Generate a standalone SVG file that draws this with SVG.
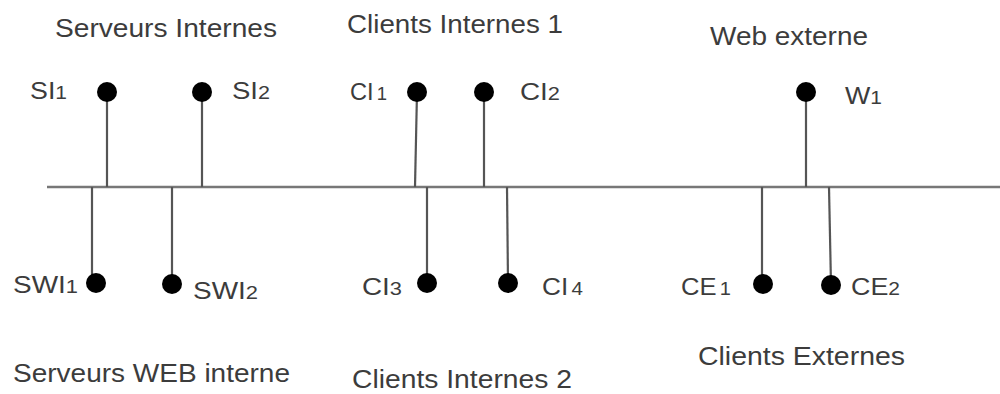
<svg xmlns="http://www.w3.org/2000/svg" width="1000" height="394" viewBox="0 0 1000 394">
<style>
.grp{font-family:"Liberation Sans",Arial,sans-serif;font-size:26px;fill:#3c3c3c}
.lbl{font-family:"Liberation Sans",Arial,sans-serif;font-size:23px;fill:#3c3c3c}
.sub{font-size:18px}
.dot{fill:#000}
.stem{stroke:#555;stroke-width:2.2;fill:none}
.bus{stroke:#777;stroke-width:2.5;fill:none}
</style>
<rect width="1000" height="394" fill="#fff"/>
<g id="connectors">
<line class="bus" x1="47" y1="187" x2="1000" y2="187"/>
<line class="stem" x1="107" y1="92" x2="107" y2="187"/>
<line class="stem" x1="202" y1="92" x2="202" y2="187"/>
<line class="stem" x1="417" y1="92" x2="415" y2="187"/>
<line class="stem" x1="484" y1="92" x2="484" y2="187"/>
<line class="stem" x1="806" y1="92" x2="806" y2="187"/>
<line class="stem" x1="92" y1="187" x2="92" y2="281"/>
<line class="stem" x1="172" y1="187" x2="172" y2="284"/>
<line class="stem" x1="427" y1="187" x2="427" y2="283"/>
<line class="stem" x1="507" y1="187" x2="508" y2="283"/>
<line class="stem" x1="762" y1="187" x2="762" y2="284"/>
<line class="stem" x1="829" y1="187" x2="831" y2="285"/>
</g>
<g id="groups">
<text class="grp" x="55" y="37" textLength="222" lengthAdjust="spacingAndGlyphs">Serveurs Internes</text>
<text class="grp" x="347" y="33" textLength="216" lengthAdjust="spacingAndGlyphs">Clients Internes 1</text>
<text class="grp" x="710" y="45" textLength="158" lengthAdjust="spacingAndGlyphs">Web externe</text>
<text class="grp" x="13" y="382" textLength="277" lengthAdjust="spacingAndGlyphs">Serveurs WEB interne</text>
<text class="grp" x="352" y="388" textLength="220" lengthAdjust="spacingAndGlyphs">Clients Internes 2</text>
<text class="grp" x="698" y="365" textLength="207" lengthAdjust="spacingAndGlyphs">Clients Externes</text>
</g>
<g id="SI1"><circle class="dot" cx="107" cy="92" r="10"/><text class="lbl" x="30" y="99" textLength="37" lengthAdjust="spacingAndGlyphs">SI<tspan class="sub">1</tspan></text></g>
<g id="SI2"><circle class="dot" cx="202" cy="92" r="10"/><text class="lbl" x="232" y="99" textLength="38" lengthAdjust="spacingAndGlyphs">SI<tspan class="sub">2</tspan></text></g>
<g id="CI1"><circle class="dot" cx="417" cy="92" r="10"/><text class="lbl" x="350" y="100" textLength="37" lengthAdjust="spacingAndGlyphs">CI<tspan class="sub" dx="3">1</tspan></text></g>
<g id="CI2"><circle class="dot" cx="484" cy="92" r="10"/><text class="lbl" x="520" y="100" textLength="40" lengthAdjust="spacingAndGlyphs">CI<tspan class="sub">2</tspan></text></g>
<g id="W1"><circle class="dot" cx="806" cy="92" r="10"/><text class="lbl" x="845" y="104" textLength="37" lengthAdjust="spacingAndGlyphs">W<tspan class="sub">1</tspan></text></g>
<g id="SWI1"><circle class="dot" cx="96" cy="283" r="10"/><text class="lbl" x="13" y="293" textLength="65" lengthAdjust="spacingAndGlyphs">SWI<tspan class="sub">1</tspan></text></g>
<g id="SWI2"><circle class="dot" cx="172" cy="284" r="10"/><text class="lbl" x="193" y="299" textLength="65" lengthAdjust="spacingAndGlyphs">SWI<tspan class="sub">2</tspan></text></g>
<g id="CI3"><circle class="dot" cx="427" cy="283" r="10"/><text class="lbl" x="362" y="295" textLength="40" lengthAdjust="spacingAndGlyphs">CI<tspan class="sub">3</tspan></text></g>
<g id="CI4"><circle class="dot" cx="508" cy="283" r="10"/><text class="lbl" x="542" y="295" textLength="41" lengthAdjust="spacingAndGlyphs">CI<tspan class="sub" dx="3">4</tspan></text></g>
<g id="CE1"><circle class="dot" cx="763" cy="284" r="10"/><text class="lbl" x="681" y="295" textLength="50" lengthAdjust="spacingAndGlyphs">CE<tspan class="sub" dx="3">1</tspan></text></g>
<g id="CE2"><circle class="dot" cx="831" cy="285" r="10"/><text class="lbl" x="851" y="295" textLength="49" lengthAdjust="spacingAndGlyphs">CE<tspan class="sub">2</tspan></text></g>
</svg>
